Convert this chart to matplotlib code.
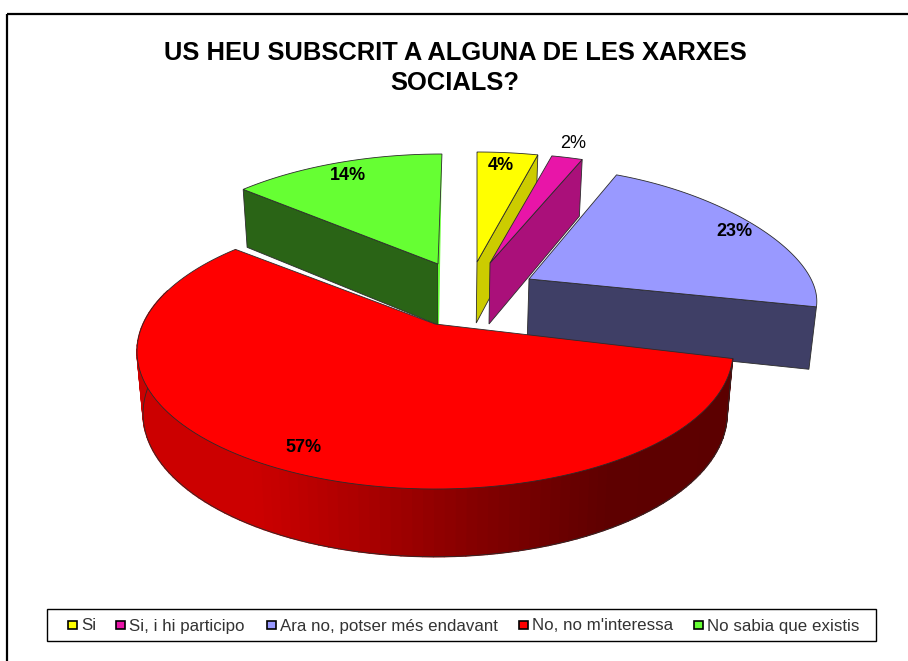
import numpy as np
import matplotlib
matplotlib.use('Agg')
import matplotlib.pyplot as plt
from matplotlib.colors import LinearSegmentedColormap
from matplotlib.patches import Polygon, Rectangle

plt.rcParams['font.family'] = ['Liberation Sans', 'DejaVu Sans']

# Data
TITLE = "US HEU SUBSCRIT A ALGUNA DE LES XARXES\nSOCIALS?"
CATEGORIES = ["Si", "Si, i hi participo", "Ara no, potser més endavant",
              "No, no m'interessa", "No sabia que existis"]
VALUES = [4, 2, 23, 57, 14]

# Style
TOP_COLORS = ["#FFFF00", "#E815A8", "#9999FF", "#FF0000", "#66FF33"]
WALL_COLORS = ["#CCCC00", "#AA107A", "#3F3F66", "#A00000", "#2A6416"]
# exploded apex of each slice (pixels) and its radii
APEX = [(477, 262), (490, 263), (529, 279), (435, 324), (438, 264)]
RADIUS_X = [292, 297, 282, 292, 289]
RADIUS_Y = [132, 132, 112, 132, 132]
PERSP_Y = [0.2, 0.2, 0.0, 0.2, 0.2]
SKEW = [0, 0, 0, 0, 0.036]
LABEL_XY = [(501, 166), (573, 144), (734, 231), (303, 447), (348, 175)]
LABEL_BOLD = [True, False, True, True, True]
LEGEND_BOX_X = [72, 120, 271, 523, 698]
PERSPECTIVE = 0.2
EDGE = "#2b2b2b"
DRAW_ORDER = [4, 0, 1, 2, 3]

red_wall = LinearSegmentedColormap.from_list(
    "red_wall", ["#CC0000", "#CC0000", "#A80000", "#800000", "#5E0000", "#5C0000"])


def project(idx, theta):
    # theta in degrees, clockwise from the back of the pie
    t = np.radians(theta)
    s = 1 / (1 + PERSPECTIVE * np.cos(t))
    s_y = 1 / (1 + PERSP_Y[idx] * np.cos(t))
    dy = RADIUS_Y[idx] * np.cos(t) * s_y
    x = APEX[idx][0] + RADIUS_X[idx] * np.sin(t) * s + SKEW[idx] * dy
    return x, APEX[idx][1] - dy, s


def drop(x, y, s):
    # point on the lower face of the disc
    return 440 + (x - 440) * 0.98, y + 34 + 27 * s


fig = plt.figure(figsize=(9.08, 6.61), dpi=100)
ax = fig.add_axes([0, 0, 1, 1])
ax.set_xlim(0, 908)
ax.set_ylim(661, 0)
ax.axis("off")

# Chart frame, runs off the right and bottom of the picture
ax.add_patch(Rectangle((6.5, 14), 920, 680, fill=False, ec="black", lw=1.6, zorder=1))

ax.text(455, 68, TITLE, ha="center", va="center", fontsize=18.4, fontweight="bold",
        linespacing=1.35, color="black", zorder=10)

edges = np.cumsum([0] + VALUES) * 3.6

# ── Slices, back to front ────────────────────────────────────
for order, idx in enumerate(DRAW_ORDER):
    z = 2 + order
    apex = APEX[idx]
    thetas = np.linspace(edges[idx], edges[idx + 1], 120)
    xs, ys, ss = project(idx, thetas)
    ax_b = drop(apex[0], apex[1], 1.0)

    if idx == 3:
        # outer wall with the dark gradient
        xb, yb = drop(xs, ys, ss)
        for i in range(len(thetas) - 1):
            if thetas[i] > 285:
                continue
            c = red_wall((xs[i] - xs.min()) / (xs.max() - xs.min()))
            quad = [(xs[i], ys[i]), (xs[i + 1], ys[i + 1]),
                    (xb[i + 1], yb[i + 1]), (xb[i], yb[i])]
            ax.add_patch(Polygon(quad, fc=c, ec=c, lw=1.0, zorder=z))
        keep = thetas < 285
        ax.plot(xb[keep], yb[keep], color=EDGE, lw=0.6, zorder=z)
        ax.plot([xs[0], xb[0]], [ys[0], yb[0]], color=EDGE, lw=0.6, zorder=z)
    else:
        # flat wall along the cut edge facing the viewer
        rim = 0 if idx == 4 else -1
        rim_b = drop(xs[rim], ys[rim], ss[rim])
        wall = [(xs[rim], ys[rim]), apex, ax_b, rim_b]
        ax.add_patch(Polygon(wall, fc=WALL_COLORS[idx], ec=EDGE, lw=0.6, zorder=z))

    if idx == 4:
        # thin sliver of the far cut edge, seen beside the dark wall
        sliver = [(xs[-1], ys[-1]), (ax_b[0] + 1, ax_b[1]), ax_b, apex]
        ax.add_patch(Polygon(sliver, fc=TOP_COLORS[idx], ec="none", zorder=z))

    top = list(zip(xs, ys)) + [apex]
    ax.add_patch(Polygon(top, fc=TOP_COLORS[idx], ec=EDGE, lw=0.6, zorder=z + 0.5))

for value, (lx, ly), bold in zip(VALUES, LABEL_XY, LABEL_BOLD):
    ax.text(lx, ly, f"{value}%", ha="center", va="center", fontsize=13,
            fontweight="bold" if bold else "normal", color="black", zorder=12)

# ── Legend ───────────────────────────────────────────────────
ax.add_patch(Rectangle((47, 609), 829, 32, fc="white", ec="black", lw=1.0, zorder=10))
for name, color, bx in zip(CATEGORIES, TOP_COLORS, LEGEND_BOX_X):
    ax.add_patch(Rectangle((bx - 4, 621), 9, 8, fc=color, ec="black", lw=1.2, zorder=11))
    ax.text(bx + 9, 630.5, name, ha="left", va="baseline", fontsize=12.2,
            color="#333333", zorder=11)

fig.savefig("out.png", dpi=100)
